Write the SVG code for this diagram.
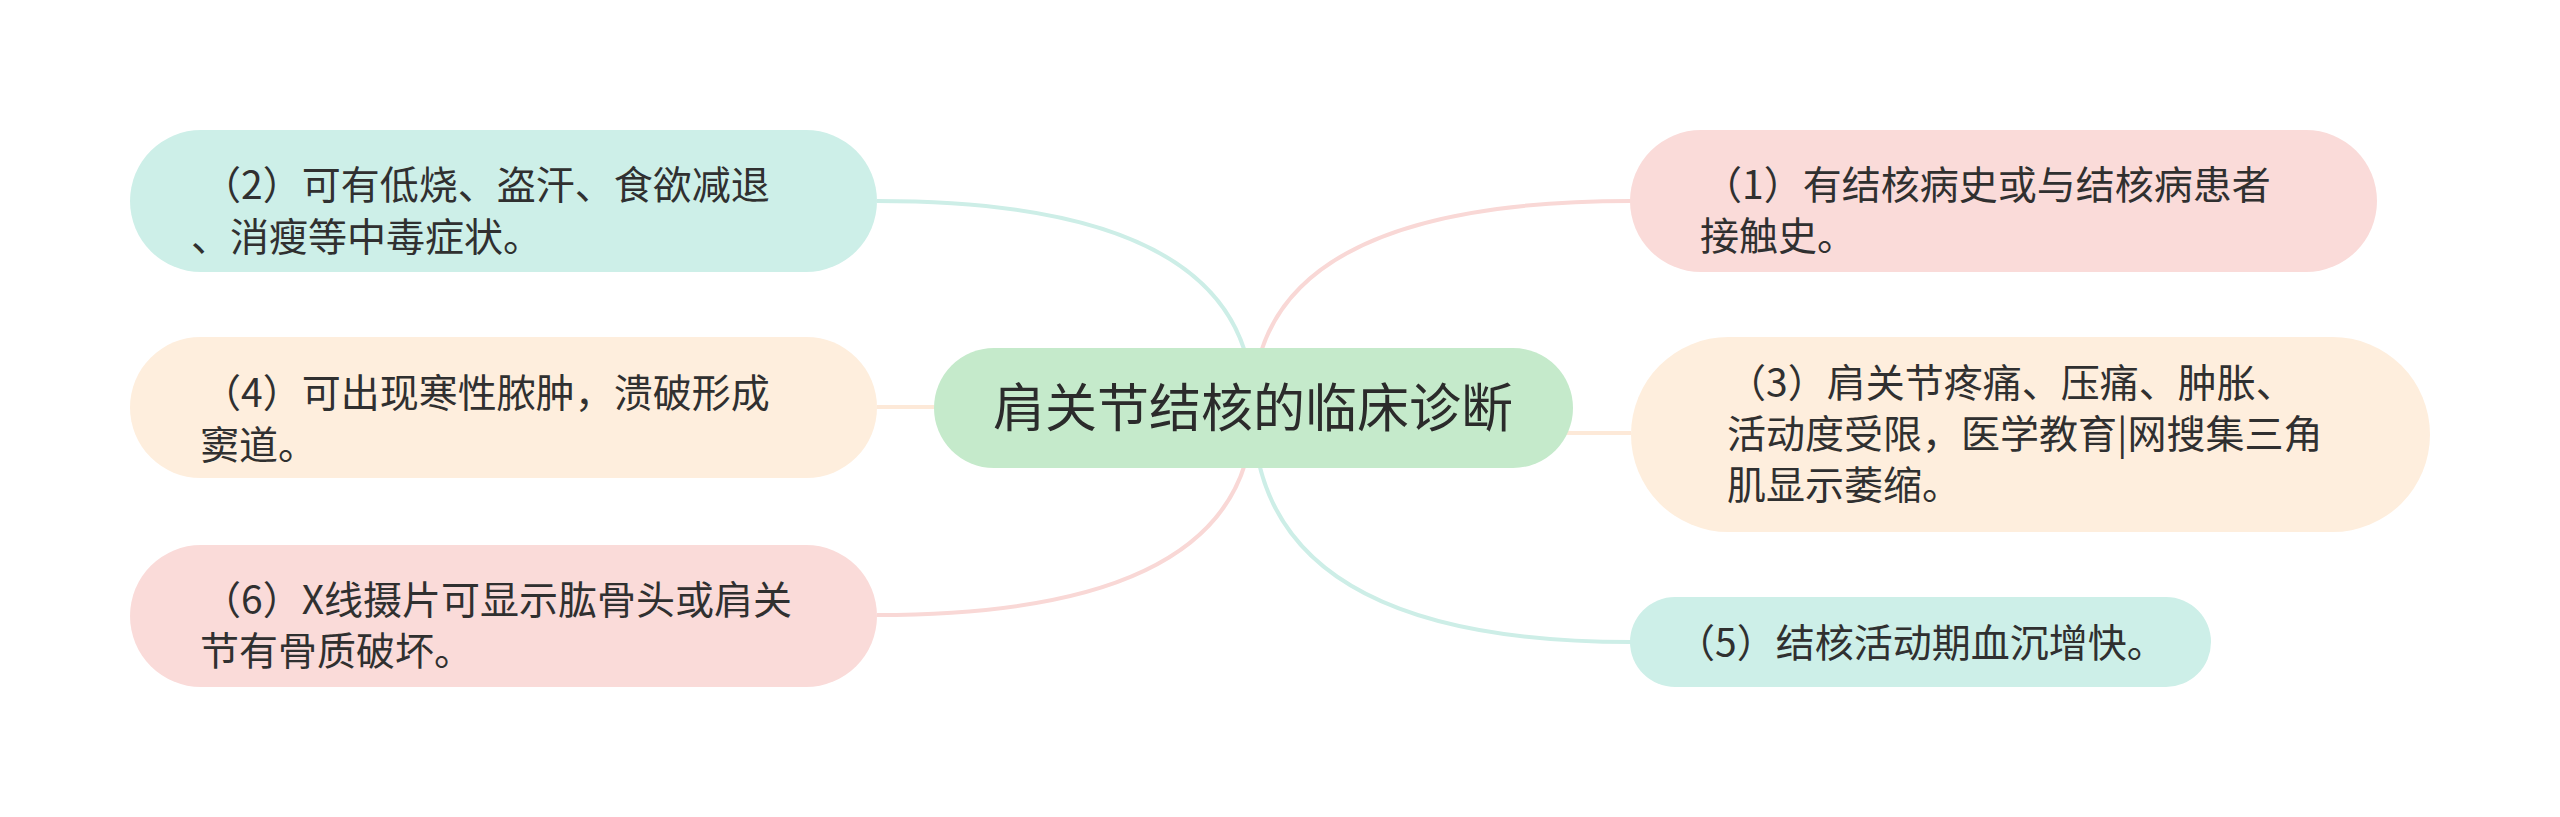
<svg xmlns="http://www.w3.org/2000/svg" width="2560" height="817" viewBox="0 0 2560 817">
<style>
.t{font-family:"Noto Sans CJK SC","Noto Sans",sans-serif;font-size:39px;fill:#303030}
.c{font-family:"Noto Sans CJK SC","Noto Sans",sans-serif;font-size:52px;fill:#2b2b2b;text-anchor:middle}
.ln{fill:none;stroke-width:4}
.teal{fill:#cdefe8}.pink{fill:#fadbd9}.peach{fill:#feeedd}.green{fill:#c5eacb}
</style>
<rect width="2560" height="817" fill="#ffffff"/>
<g id="connectors">
<path class="ln" stroke="#cdeee7" d="M877 201 Q1253 201 1253 408"/>
<path class="ln" stroke="#fde9d8" d="M877 407 Q1253 407 1253 408"/>
<path class="ln" stroke="#f9d8d6" d="M877 615 Q1253 615 1253 408"/>
<path class="ln" stroke="#f9d8d6" d="M1631 201 Q1253 201 1253 408"/>
<path class="ln" stroke="#fde9d8" d="M1631 433 Q1253 433 1253 408"/>
<path class="ln" stroke="#cdeee7" d="M1631 642 Q1253 642 1253 408"/>
</g>
<g id="center">
<rect class="green" x="934" y="348" width="639" height="120" rx="60"/>
<text class="c" x="1253" y="427">肩关节结核的临床诊断</text>
</g>
<g id="n2">
<rect class="teal" x="130" y="130" width="747" height="142" rx="71"/>
<text class="t" x="202" y="199">（2）可有低烧、盗汗、食欲减退</text>
<text class="t" x="191" y="251">、消瘦等中毒症状。</text>
</g>
<g id="n4">
<rect class="peach" x="130" y="337" width="747" height="141" rx="70.5"/>
<text class="t" x="202" y="407">（4）可出现寒性脓肿，溃破形成</text>
<text class="t" x="200" y="459">窦道。</text>
</g>
<g id="n6">
<rect class="pink" x="130" y="545" width="747" height="142" rx="71"/>
<text class="t" x="202" y="614">（6）X线摄片可显示肱骨头或肩关</text>
<text class="t" x="200" y="665">节有骨质破坏。</text>
</g>
<g id="n1">
<rect class="pink" x="1630" y="130" width="747" height="142" rx="71"/>
<text class="t" x="1703" y="199">（1）有结核病史或与结核病患者</text>
<text class="t" x="1700" y="250">接触史。</text>
</g>
<g id="n3">
<rect class="peach" x="1631" y="337" width="799" height="195" rx="97.5"/>
<text class="t" x="1727" y="397">（3）肩关节疼痛、压痛、肿胀、</text>
<text class="t" x="1727" y="448">活动度受限，医学教育|网搜集三角</text>
<text class="t" x="1727" y="499">肌显示萎缩。</text>
</g>
<g id="n5">
<rect class="teal" x="1630" y="597" width="581" height="90" rx="45"/>
<text class="t" x="1676" y="657">（5）结核活动期血沉增快。</text>
</g>
</svg>
